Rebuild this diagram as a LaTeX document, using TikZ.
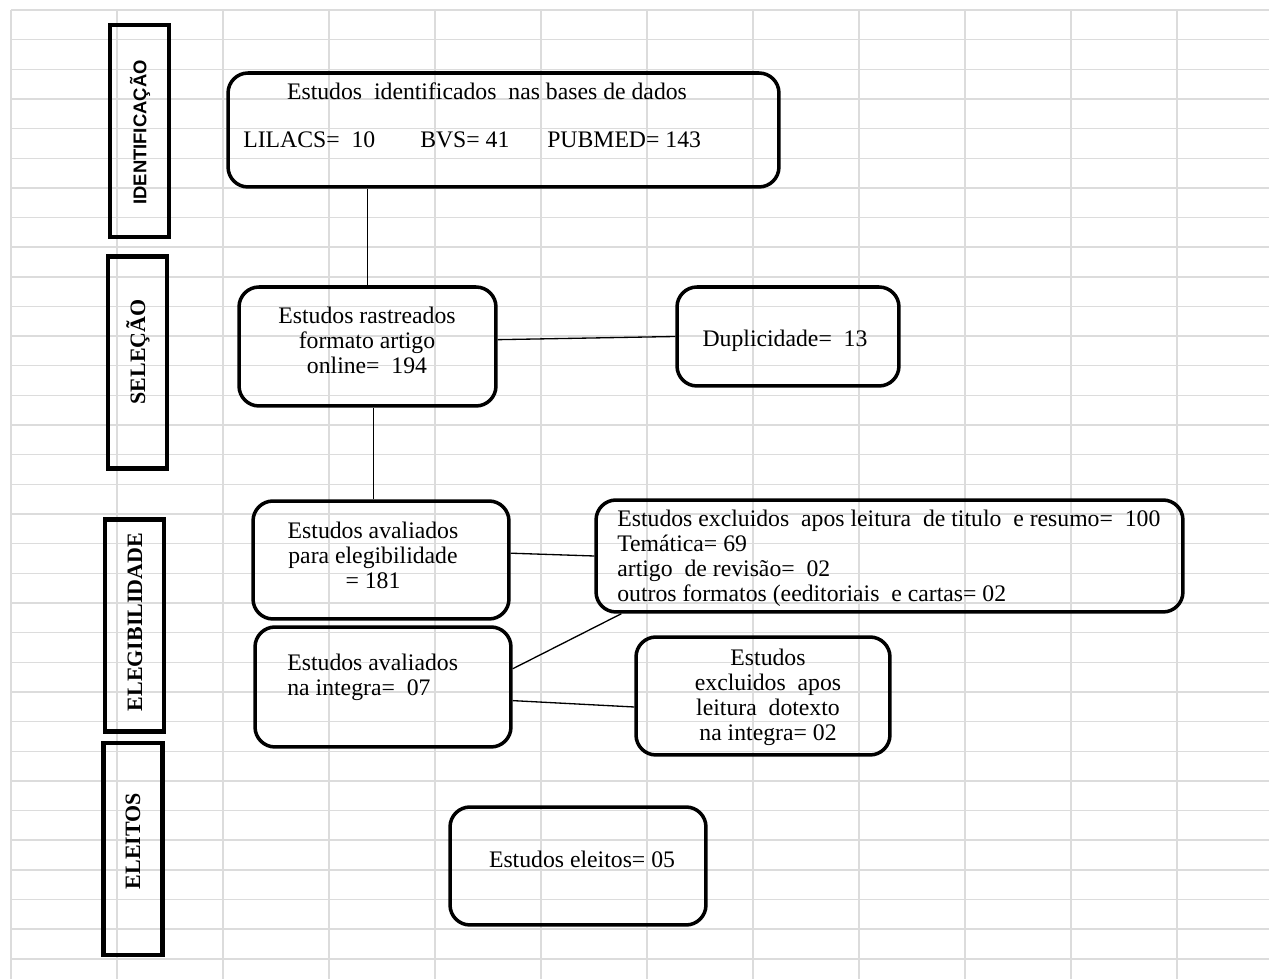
\documentclass[tikz,border=0pt]{standalone}
\usepackage{fontspec}
\setmainfont{Liberation Serif}
\newfontfamily\rotulosans{Liberation Sans}
\definecolor{cinzagrade}{HTML}{DCDCDC}
\tikzstyle{grade}=[cinzagrade,line width=0.8pt]
\tikzstyle{etapa}=[draw,line width=2.6pt,minimum width=1.18cm,minimum height=4.24cm,inner sep=0pt]
\tikzstyle{caixa}=[draw,line width=2pt,rounded corners=0.4cm,inner sep=0pt]
\tikzstyle{texto}=[inner sep=0pt,align=center,font=\fontsize{13.5}{14.2}\selectfont]
\tikzstyle{rotulo}=[rotate=90,inner sep=0pt,font=\fontsize{12.5}{13}\selectfont\bfseries]
\tikzstyle{ligacao}=[line width=0.75pt]

\begin{document}
\begin{tikzpicture}[x=0.02cm,y=-0.02cm]
\useasboundingbox (0,0) rectangle (1269,979);
\foreach \k in {0,...,32} \draw[grade] (11,{10+29.65*\k}) -- (1269,{10+29.65*\k});
\foreach \k in {0,...,11} \draw[grade] ({11+106*\k},10) -- ({11+106*\k},979);

\node[etapa] at (139.5, 131) (s1) {};
\node[etapa] at (137.5, 362.5) (s2) {};
\node[etapa] at (134.5, 625.5) (s3) {};
\node[etapa] at (133, 849) (s4) {};
\node[rotulo, font=\rotulosans\fontsize{10.5}{11}\selectfont\bfseries] at (140, 132.5) (s1t) {IDENTIFICAÇÃO};
\node[rotulo] at (138, 352) (s2t) {SELEÇÃO};
\node[rotulo] at (135, 622) (s3t) {ELEGIBILIDADE};
\node[rotulo] at (133, 841) (s4t) {ELEITOS};

\node[caixa, minimum width=11.02cm, minimum height=2.28cm] at (503.5, 130) (ident) {};
\node[caixa, minimum width=5.14cm, minimum height=2.38cm] at (367.5, 346.5) (rastreio) {};
\node[caixa, minimum width=4.44cm, minimum height=1.98cm] at (788, 336.5) (dupl) {};
\node[caixa, minimum width=5.12cm, minimum height=2.36cm] at (381, 560) (eleg) {};
\node[caixa, minimum width=11.74cm, minimum height=2.24cm] at (889.5, 556) (excl) {};
\node[caixa, minimum width=5.12cm, minimum height=2.40cm] at (383, 687) (integra) {};
\node[caixa, minimum width=5.08cm, minimum height=2.36cm] at (763, 696) (exclint) {};
\node[caixa, minimum width=5.12cm, minimum height=2.36cm] at (578, 866) (eleitos) {};

\node[texto] at (487, 91) (identa) {Estudos\ \ identificados\ \ nas bases de dados};
\node[texto, anchor=west] at (243, 140) (identb) {\makebox[3.54cm][l]{LILACS=\ \ 10}\makebox[2.54cm][l]{BVS= 41}PUBMED= 143};
\node[texto] at (367, 340) (rastreiot) {Estudos rastreados\\formato artigo\\online=\ \ 194};
\node[texto] at (785, 341) (duplt) {Duplicidade=\ \ 13};
\node[texto] at (373, 555) (elegt) {Estudos avaliados\\para elegibilidade\\= 181};
\node[texto, align=left, anchor=west] at (617, 558.5) (exclt) {Estudos excluidos\ \ apos leitura\ \ de titulo\ \ e resumo=\ \ 100\\Temática= 69\\artigo\ \ de revisão=\ \ 02\\outros formatos (eeditoriais\ \ e cartas= 02};
\node[texto, align=left, anchor=west] at (287, 677) (integrat) {Estudos avaliados\\na integra=\ \ 07};
\node[texto] at (768, 697) (exclintt) {Estudos\\excluidos\ \ apos\\leitura\ \ dotexto\\na integra= 02};
\node[texto] at (582, 859) (eleitost) {Estudos eleitos= 05};

\draw[ligacao] (rastreio.north) -- (rastreio.north |- ident.south);
\draw[ligacao] (rastreio.3) -- (dupl.west);
\draw[ligacao] (eleg.97.7) -- (eleg.97.7 |- rastreio.south);
\draw[ligacao] (eleg.3) -- (excl.west);
\draw[ligacao] (integra.8) -- ([xshift=0.54cm]excl.south west);
\draw[ligacao] (integra.-6) -- ([yshift=-0.22cm]exclint.west);
\end{tikzpicture}
\end{document}
